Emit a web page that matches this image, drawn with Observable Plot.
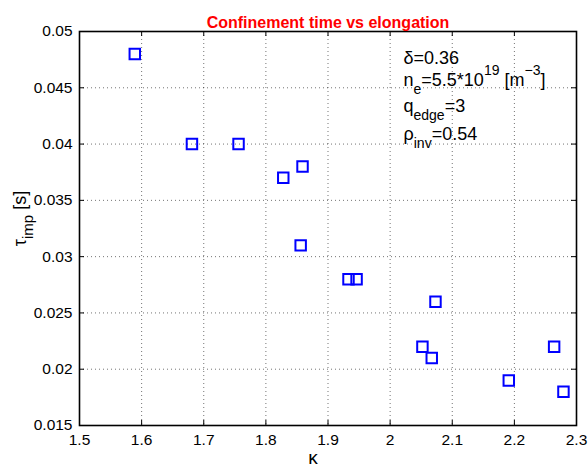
<!DOCTYPE html>
<html><head><meta charset="utf-8">
<script src="https://cdn.jsdelivr.net/npm/d3@7"></script>
<script src="https://cdn.jsdelivr.net/npm/@observablehq/plot@0.6"></script>
<style>
html,body{margin:0;padding:0;background:#fff;}
svg text{font-family:"Liberation Sans",Arial,Helvetica,sans-serif;}
</style>
</head><body>
<div id="chart"></div>
<script>
const kappa = [1.589, 1.681, 1.756, 1.828, 1.859, 1.856, 1.933, 1.946, 2.073, 2.052, 2.067, 2.191, 2.264, 2.279];
const tauImp = [0.048, 0.040, 0.040, 0.037, 0.038, 0.031, 0.028, 0.028, 0.026, 0.022, 0.021, 0.019, 0.022, 0.018];
const xTicks = [1.5, 1.6, 1.7, 1.8, 1.9, 2.0, 2.1, 2.2, 2.3];
const yTicks = [0.015, 0.02, 0.025, 0.03, 0.035, 0.04, 0.045, 0.05];
const xTickLabels = ["1.5","1.6","1.7","1.8","1.9","2","2.1","2.2","2.3"];
const yTickLabels = ["0.015","0.02","0.025","0.03","0.035","0.04","0.045","0.05"];
const titleText = "Confinement time vs elongation";
const annotLines = [
  [["δ=0.36",""]],
  [["n",""],["e","sub"],["=5.5*10",""],["19","sup"],[" [m",""],["−3","sup"],["]",""]],
  [["q",""],["edge","sub"],["=3",""]],
  [["ρ",""],["inv","sub"],["=0.54",""]]
];
const annotBaselines = [32, 54.5, 80, 108];

const data = kappa.map((k, i) => ({k, t: tauImp[i]}));
const W = 588, H = 472;
const mL = 79, mR = 12, mT = 31, mB = 47;
const innerH = H - mT - mB, innerW = W - mL - mR;
const font = '"Liberation Sans",Arial,Helvetica,sans-serif';

const plot = Plot.plot({
  width: W, height: H,
  marginLeft: mL, marginRight: mR, marginTop: mT, marginBottom: mB,
  style: {fontFamily: font, fontSize: "15.5px", background: "#fff", overflow: "visible"},
  x: {domain: [1.5, 2.3], ticks: xTicks, label: null},
  y: {domain: [0.015, 0.05], ticks: yTicks, label: null},
  marks: [
    Plot.ruleX(xTicks.slice(1, -1), {stroke: "#000", strokeOpacity: 0.55, strokeDasharray: "1,3", strokeWidth: 1}),
    Plot.ruleY(yTicks.slice(1, -1), {stroke: "#000", strokeOpacity: 0.55, strokeDasharray: "1,3", strokeWidth: 1}),
    Plot.tickX(xTicks, {x: d => d, insetTop: innerH - 5, stroke: "#000"}),
    Plot.tickX(xTicks, {x: d => d, insetBottom: innerH - 5, stroke: "#000"}),
    Plot.tickY(yTicks, {y: d => d, insetRight: innerW - 5, stroke: "#000"}),
    Plot.tickY(yTicks, {y: d => d, insetLeft: innerW - 5, stroke: "#000"}),
    Plot.axisX(xTicks, {tickSize: 0, tickPadding: 8, tickFormat: d => xTickLabels[xTicks.indexOf(d)], fontSize: 15.5, fill: "#000"}),
    Plot.axisY(yTicks, {tickSize: 0, tickPadding: 7, tickFormat: d => yTickLabels[yTicks.indexOf(d)], fontSize: 15.5, fill: "#000"}),
    Plot.frame({stroke: "#000", strokeWidth: 1.6}),
    Plot.dot(data, {x: "k", y: "t", symbol: "square", r: 5.9, stroke: "#0000ff", strokeWidth: 2, fill: "none"}),
    Plot.text([titleText], {frameAnchor: "top", dy: -15, text: d => d, fill: "#ff0000", fontWeight: "bold", fontSize: 16}),
    Plot.text(["κ"], {frameAnchor: "bottom", dx: -15, dy: 38, text: d => d, fill: "#000", fontSize: 19, fontFamily: '"Liberation Serif","Times New Roman",serif'}),
    Plot.text(["τ"], {frameAnchor: "left", textAnchor: "middle", dx: -59, dy: -10, text: d => d, fill: "#000", fontSize: 18, rotate: -90, className: "ylab"}),
    ...annotLines.map((line, i) => Plot.text([i], {frameAnchor: "top-left", lineAnchor: "bottom", dx: 324, dy: annotBaselines[i], text: d => "x", textAnchor: "start", fill: "#000", fontSize: 18, className: "annot" + i}))
  ]
});
document.getElementById("chart").appendChild(plot);

// rich text (sub/superscripts) for annotations and y label
annotLines.forEach((line, i) => {
  d3.select(plot).selectAll(".annot" + i + " text").each(function() {
    const t = d3.select(this);
    t.text(null);
    line.forEach(([s, kind]) => {
      const sp = t.append("tspan").text(s);
      if (kind === "sub") sp.attr("baseline-shift", "-8px").attr("font-size", "14px");
      if (kind === "sup") sp.attr("baseline-shift", "11px").attr("font-size", "14px");
    });
  });
});
d3.select(plot).selectAll(".ylab text").each(function() {
  const t = d3.select(this);
  t.text(null);
  t.append("tspan").text("τ");
  t.append("tspan").text("imp").attr("baseline-shift", "-7px").attr("font-size", "15px");
  t.append("tspan").text(" [s]");
});
</script>
</body></html>
